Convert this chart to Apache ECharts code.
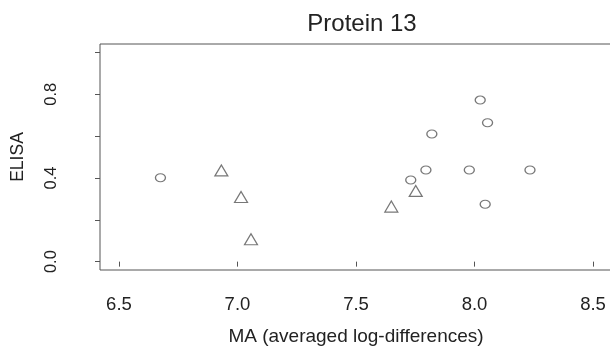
<!DOCTYPE html>
<html>
<head>
<meta charset="utf-8">
<script src="https://cdn.jsdelivr.net/npm/echarts@6/dist/echarts.min.js"></script>
<style>
  html, body { margin: 0; padding: 0; background: #fff; }
  #chart { width: 610px; height: 349px; }
</style>
</head>
<body>
<div id="chart"></div>
<script>
// 数据：圆点组
const circleX = [6.675, 8.024, 8.055, 7.820, 7.795, 7.978, 8.234, 7.731, 8.045];
const circleY = [0.401, 0.772, 0.664, 0.610, 0.438, 0.438, 0.438, 0.390, 0.274];
// 数据：三角组
const triX = [6.932, 7.015, 7.057, 7.752, 7.649];
const triY = [0.436, 0.309, 0.107, 0.338, 0.263];
// 刻度
const xTicks = [6.5, 7.0, 7.5, 8.0, 8.5];
const yTicks = [0, 0.2, 0.4, 0.6, 0.8, 1.0];
const yLabels = [0, 0.4, 0.8];

const pairs = (xs, ys) => xs.map((x, i) => [x, ys[i]]);

let myChart = echarts.init(document.getElementById('chart'));
const font = 'Liberation Sans, Arial, sans-serif';
const ink = '#555';

// 图表主体
let option = {
    animation: false,
    title: {
        text: 'Protein 13',
        left: 357,
        textAlign: 'center',
        top: 7,
        textStyle: { fontFamily: font, fontSize: 24, fontWeight: 'normal', color: '#222' }
    },
    grid: {
        left: 100, top: 44, width: 512, height: 226,
        outerBoundsMode: 'none',
        containLabel: false,
        show: true, borderColor: ink, borderWidth: 1
    },
    xAxis: {
        type: 'value',
        min: 6.42, max: 8.58,
        name: 'MA (averaged log-differences)',
        nameLocation: 'middle',
        nameGap: 57,
        nameTextStyle: { fontFamily: font, fontSize: 19, color: '#222' },
        axisLine: { show: false },
        splitLine: { show: false },
        axisTick: { show: true, length: 5, lineStyle: { color: ink }, customValues: xTicks },
        axisLabel: {
            fontFamily: font, fontSize: 18.5, color: '#222', margin: 25,
            customValues: xTicks,
            formatter: v => v.toFixed(1)
        }
    },
    yAxis: {
        type: 'value',
        min: -0.04, max: 1.04,
        name: 'ELISA',
        nameLocation: 'middle',
        nameGap: 73,
        nameTextStyle: { fontFamily: font, fontSize: 17.5, color: '#222' },
        axisLine: { show: false },
        splitLine: { show: false },
        axisTick: { show: true, length: 5, lineStyle: { color: ink }, customValues: yTicks },
        axisLabel: {
            fontFamily: font, fontSize: 16.5, color: '#222', margin: 40, rotate: 90,
            customValues: yLabels,
            formatter: v => v.toFixed(1)
        }
    },
    series: [
        {
            type: 'scatter',
            symbol: 'circle',
            symbolSize: [10, 8],
            itemStyle: { color: 'rgba(0,0,0,0)', borderColor: ink, borderWidth: 1.2 },
            data: pairs(circleX, circleY)
        },
        {
            type: 'scatter',
            symbol: 'triangle',
            symbolSize: [13, 11],
            itemStyle: { color: 'rgba(0,0,0,0)', borderColor: ink, borderWidth: 1.2 },
            data: pairs(triX, triY)
        }
    ]
};

option && myChart.setOption(option);
</script>
</body>
</html>
